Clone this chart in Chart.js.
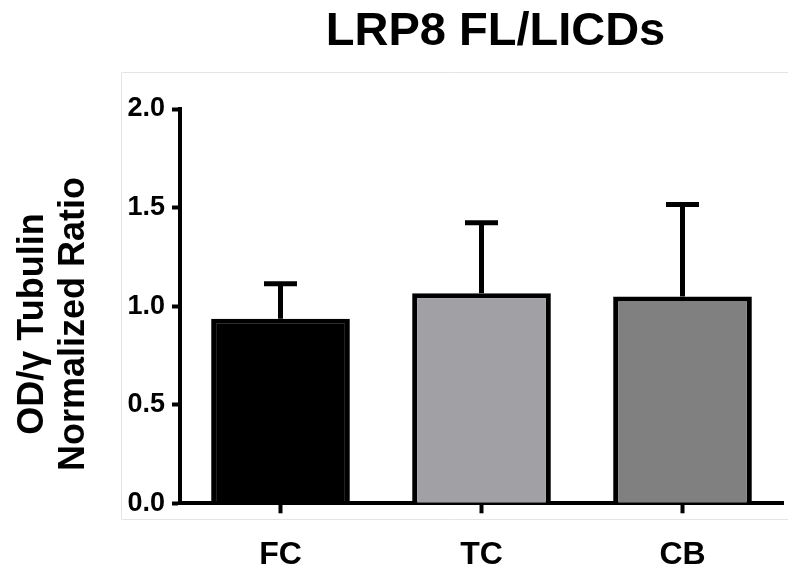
<!DOCTYPE html>
<html>
<head>
<meta charset="utf-8">
<script src="https://cdn.jsdelivr.net/npm/chart.js@4"></script>
<style>
  body { margin: 0; background: #fff; }
</style>
</head>
<body>
<canvas id="myChart" width="788" height="576"></canvas>
<script>
// values
const categories = ['FC', 'TC', 'CB'];
const means = [0.936, 1.066, 1.049];
const errors = [0.178, 0.357, 0.467]; // upper error bar only
const yTicks = [0, 0.5, 1.0, 1.5, 2.0];
const barColors = ['#000000', '#a1a0a5', '#808080'];
const chartTitle = 'LRP8 FL/LICDs';
const yTitle = ['OD/γ Tubulin', 'Normalized Ratio'];

const FONT = "'Liberation Sans', Arial, Helvetica, sans-serif";

// faint frame + title + y label drawn by hand
const decor = {
  id: 'decor',
  beforeDraw(chart) {
    const ctx = chart.ctx;
    ctx.save();
    ctx.strokeStyle = '#e4e4e4';
    ctx.lineWidth = 1;
    ctx.beginPath();
    ctx.moveTo(788, 72.5);
    ctx.lineTo(121.5, 72.5);
    ctx.lineTo(121.5, 519.5);
    ctx.lineTo(788, 519.5);
    ctx.stroke();
    ctx.restore();
  },
  afterDraw(chart) {
    const ctx = chart.ctx;
    ctx.save();
    ctx.fillStyle = '#000';
    ctx.font = 'bold 47px ' + FONT;
    ctx.textAlign = 'center';
    ctx.textBaseline = 'alphabetic';
    ctx.fillText(chartTitle, 495.5, 45);

    ctx.font = 'bold 36px ' + FONT;
    ctx.translate(0, 324);
    ctx.rotate(-Math.PI / 2);
    ctx.fillText(yTitle[0], 0, 43);
    ctx.fillText(yTitle[1], 0, 84);
    ctx.restore();
  }
};

// SEM bars on top of each column
const errorBars = {
  id: 'errorBars',
  afterDatasetsDraw(chart) {
    const ctx = chart.ctx;
    const y = chart.scales.y;
    const meta = chart.getDatasetMeta(0);
    ctx.save();
    ctx.strokeStyle = '#000';
    ctx.lineWidth = 5;
    meta.data.forEach((bar, i) => {
      const top = y.getPixelForValue(means[i] + errors[i]);
      ctx.beginPath();
      ctx.moveTo(bar.x, bar.y);
      ctx.lineTo(bar.x, top);
      ctx.moveTo(bar.x - 16.5, top);
      ctx.lineTo(bar.x + 16.5, top);
      ctx.stroke();
    });
    ctx.restore();
  }
};

const data = {
  labels: categories,
  datasets: [{
    data: means,
    backgroundColor: barColors,
    borderColor: '#000',
    borderWidth: 5,
    categoryPercentage: 1,
    barPercentage: 0.69
  }]
};

const config = {
  type: 'bar',
  data: data,
  options: {
    responsive: false,
    animation: false,
    layout: { padding: { top: 109, right: 5, left: 0, bottom: 0 } },
    plugins: {
      legend: { display: false },
      tooltip: { enabled: false }
    },
    scales: {
      x: {
        afterFit: s => { s.height = 72.7 },
        border: { display: true, color: '#000', width: 4 },
        grid: { drawOnChartArea: false, offset: false, color: '#000', tickLength: 10, tickWidth: 4 },
        ticks: { color: '#000', padding: 23, font: { family: FONT, size: 32, weight: 'bold' } }
      },
      y: {
        min: 0,
        max: 2,
        afterFit: s => { s.width = 180 },
        afterBuildTicks: s => { s.ticks = yTicks.map(v => ({ value: v })) },
        border: { display: true, color: '#000', width: 4 },
        grid: { drawOnChartArea: false, color: '#000', tickLength: 8, tickWidth: 4 },
        ticks: {
          color: '#000',
          padding: 7,
          font: { family: FONT, size: 27, weight: 'bold' },
          callback: v => v.toFixed(1)
        }
      }
    }
  },
  plugins: [decor, errorBars]
};

const myChart = new Chart(document.getElementById('myChart'), config);
</script>
</body>
</html>
